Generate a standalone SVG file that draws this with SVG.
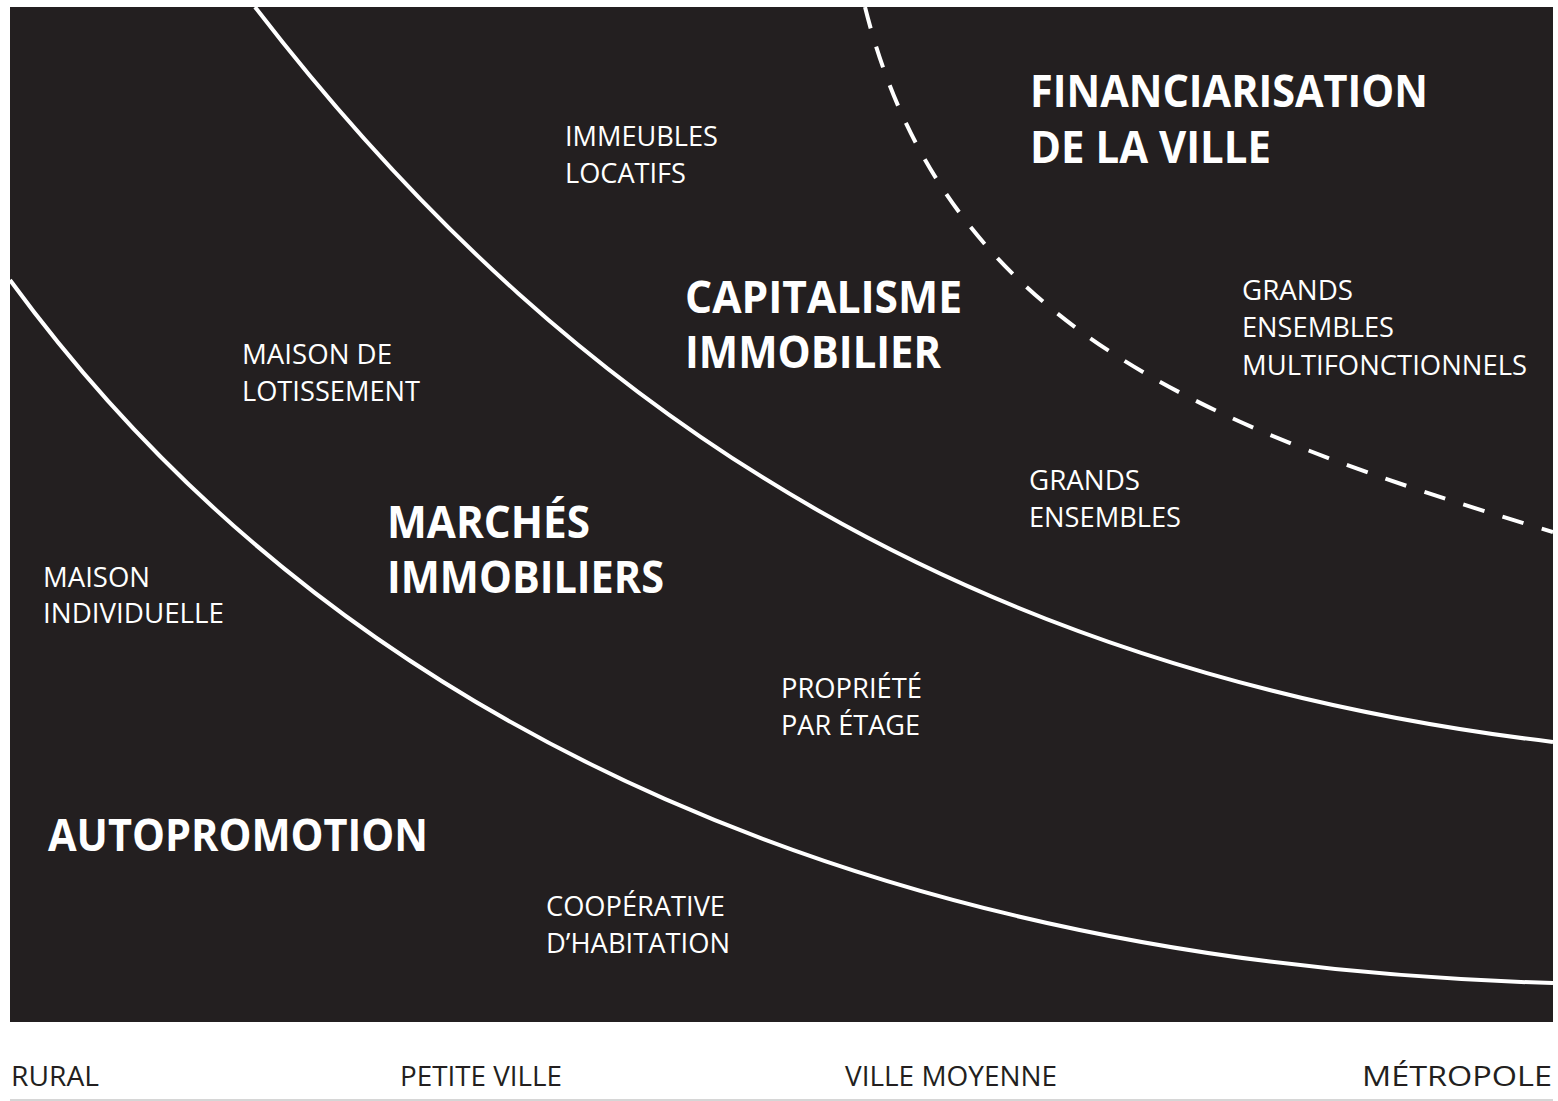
<svg xmlns="http://www.w3.org/2000/svg" width="1558" height="1101" viewBox="0 0 1558 1101">
<style>
.bg{fill:#231f20}
.curve{fill:none;stroke:#ffffff;stroke-width:4}
.dash{stroke-dasharray:22 19}
.t{font-family:"Open Sans","Noto Sans","Liberation Sans",sans-serif;fill:#ffffff;font-size:28px}
.b{font-family:"Open Sans","Noto Sans","Liberation Sans",sans-serif;fill:#ffffff;font-size:45px;font-weight:700}
.ax{font-family:"Open Sans","Noto Sans","Liberation Sans",sans-serif;fill:#231f20;font-size:28px}
.axis-line{stroke:#c8c8c8;stroke-width:1.5}
</style>
<rect x="0" y="0" width="1558" height="1101" fill="#ffffff"/>
<rect class="bg" x="10" y="7" width="1543" height="1015"/>
<defs><clipPath id="clip"><rect x="10" y="7" width="1543" height="1015"/></clipPath></defs>
<g id="connectors" clip-path="url(#clip)">
<path class="curve" d="M10,280 C350,745 903,965 1553,983"/>
<path class="curve" d="M255,7 C585,436 993,675 1553,742"/>
<path class="curve dash" d="M865,7 C945,327 1203,427 1553,532"/>
</g>
<g id="financiarisation">
<text class="b" x="1030" y="107" textLength="398" lengthAdjust="spacingAndGlyphs">FINANCIARISATION</text>
<text class="b" x="1030" y="163" textLength="241" lengthAdjust="spacingAndGlyphs">DE LA VILLE</text>
</g>
<g id="capitalisme">
<text class="b" x="685" y="313" textLength="277" lengthAdjust="spacingAndGlyphs">CAPITALISME</text>
<text class="b" x="685" y="368" textLength="256" lengthAdjust="spacingAndGlyphs">IMMOBILIER</text>
</g>
<g id="marches">
<text class="b" x="387" y="538" textLength="203" lengthAdjust="spacingAndGlyphs">MARCHÉS</text>
<text class="b" x="387" y="593" textLength="277" lengthAdjust="spacingAndGlyphs">IMMOBILIERS</text>
</g>
<g id="autopromotion">
<text class="b" x="48" y="851" textLength="380" lengthAdjust="spacingAndGlyphs">AUTOPROMOTION</text>
</g>
<g id="immeubles">
<text class="t" x="565" y="146" textLength="153" lengthAdjust="spacingAndGlyphs">IMMEUBLES</text>
<text class="t" x="565" y="183" textLength="121" lengthAdjust="spacingAndGlyphs">LOCATIFS</text>
</g>
<g id="lotissement">
<text class="t" x="242" y="364" textLength="150" lengthAdjust="spacingAndGlyphs">MAISON DE</text>
<text class="t" x="242" y="401" textLength="178" lengthAdjust="spacingAndGlyphs">LOTISSEMENT</text>
</g>
<g id="individuelle">
<text class="t" x="43" y="587" textLength="107" lengthAdjust="spacingAndGlyphs">MAISON</text>
<text class="t" x="43" y="623" textLength="181" lengthAdjust="spacingAndGlyphs">INDIVIDUELLE</text>
</g>
<g id="multifonctionnels">
<text class="t" x="1242" y="300" textLength="111" lengthAdjust="spacingAndGlyphs">GRANDS</text>
<text class="t" x="1242" y="337" textLength="152" lengthAdjust="spacingAndGlyphs">ENSEMBLES</text>
<text class="t" x="1242" y="375" textLength="285" lengthAdjust="spacingAndGlyphs">MULTIFONCTIONNELS</text>
</g>
<g id="grands-ensembles">
<text class="t" x="1029" y="490" textLength="111" lengthAdjust="spacingAndGlyphs">GRANDS</text>
<text class="t" x="1029" y="527" textLength="152" lengthAdjust="spacingAndGlyphs">ENSEMBLES</text>
</g>
<g id="propriete">
<text class="t" x="781" y="698" textLength="141" lengthAdjust="spacingAndGlyphs">PROPRIÉTÉ</text>
<text class="t" x="781" y="735" textLength="139" lengthAdjust="spacingAndGlyphs">PAR ÉTAGE</text>
</g>
<g id="cooperative">
<text class="t" x="546" y="916" textLength="179" lengthAdjust="spacingAndGlyphs">COOPÉRATIVE</text>
<text class="t" x="546" y="953" textLength="184" lengthAdjust="spacingAndGlyphs">D’HABITATION</text>
</g>
<g id="axis">
<line class="axis-line" x1="10" y1="1100" x2="1553" y2="1100"/>
<text class="ax" x="11" y="1086" textLength="88" lengthAdjust="spacingAndGlyphs">RURAL</text>
<text class="ax" x="400" y="1086" textLength="162" lengthAdjust="spacingAndGlyphs">PETITE VILLE</text>
<text class="ax" x="845" y="1086" textLength="212" lengthAdjust="spacingAndGlyphs">VILLE MOYENNE</text>
<text class="ax" x="1552" y="1086" text-anchor="end" textLength="190" lengthAdjust="spacingAndGlyphs">MÉTROPOLE</text>
</g>
</svg>
